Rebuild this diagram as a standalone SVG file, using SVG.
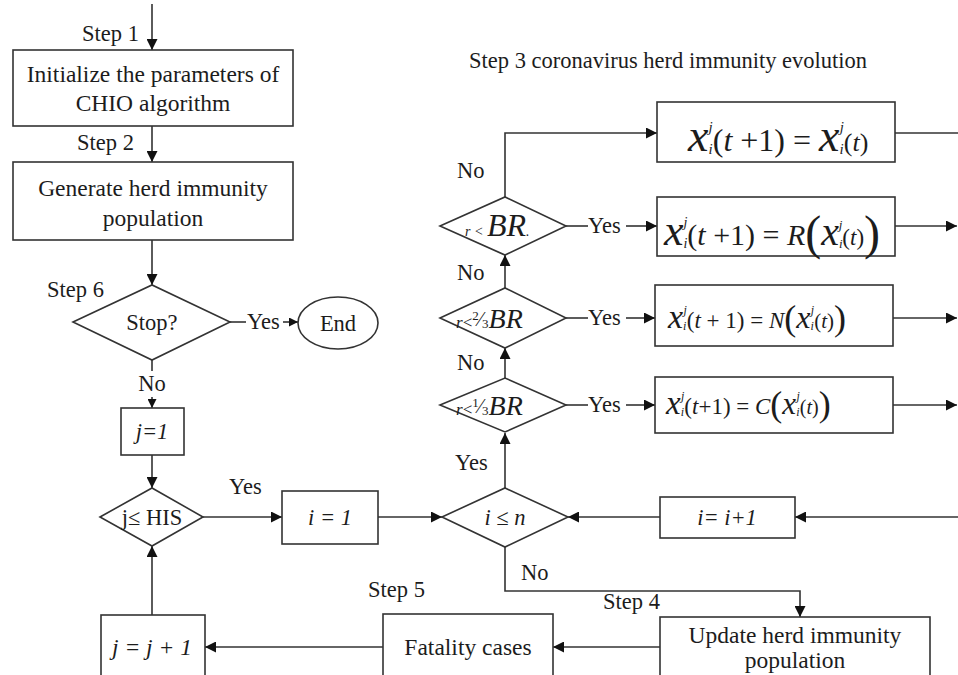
<svg xmlns="http://www.w3.org/2000/svg" width="958" height="675" viewBox="0 0 958 675">
<style>
.t{font-family:"Liberation Serif","Times New Roman",serif;font-size:22.5px;fill:#1c1c1c}
.b{font-size:23.5px}
.i{font-style:italic}
.s{fill:#fff;stroke:#333;stroke-width:1.6}
.c{fill:none;stroke:#333;stroke-width:1.6}
</style>
<defs>
<marker id="ah" viewBox="0 0 10 10" refX="10" refY="5" markerWidth="13" markerHeight="11" markerUnits="userSpaceOnUse" orient="auto"><path d="M0,0 L10,5 L0,10 z" fill="#111"/></marker>
<marker id="as" viewBox="0 0 10 10" refX="10" refY="5" markerWidth="10" markerHeight="9" markerUnits="userSpaceOnUse" orient="auto"><path d="M0,0 L10,5 L0,10 z" fill="#111"/></marker>
</defs>
<rect width="958" height="675" fill="#fff"/>

<g id="connectors">
<path class="c" d="M152,4 V50" marker-end="url(#ah)"/>
<path class="c" d="M152,126 V162" marker-end="url(#ah)"/>
<path class="c" d="M152,240 V285" marker-end="url(#ah)"/>
<path class="c" d="M230,322 H246"/>
<path class="c" d="M283,322 H298" marker-end="url(#as)"/>
<path class="c" d="M152,360 V371"/>
<path class="c" d="M152,397 V408" marker-end="url(#as)"/>
<path class="c" d="M152,455 V488" marker-end="url(#ah)"/>
<path class="c" d="M203,517 H282" marker-end="url(#ah)"/>
<path class="c" d="M378,517 H442" marker-end="url(#ah)"/>
<path class="c" d="M660,517 H568" marker-end="url(#ah)"/>
<path class="c" d="M958,517 H795" marker-end="url(#ah)"/>
<path class="c" d="M505,488 V433" marker-end="url(#ah)"/>
<path class="c" d="M505,378 V348" marker-end="url(#ah)"/>
<path class="c" d="M505,288 V255" marker-end="url(#ah)"/>
<path class="c" d="M505,197 V133 H657" marker-end="url(#ah)"/>
<path class="c" d="M895,133 H958"/>
<path class="c" d="M566,226 H588"/>
<path class="c" d="M626,226 H657" marker-end="url(#ah)"/>
<path class="c" d="M566,318 H588"/>
<path class="c" d="M626,318 H655" marker-end="url(#ah)"/>
<path class="c" d="M566,405 H588"/>
<path class="c" d="M626,405 H655" marker-end="url(#ah)"/>
<path class="c" d="M895,226 H957" marker-end="url(#ah)"/>
<path class="c" d="M893,318 H957" marker-end="url(#ah)"/>
<path class="c" d="M893,405 H957" marker-end="url(#ah)"/>
<path class="c" d="M505,547 V591 H800 V617" marker-end="url(#ah)"/>
<path class="c" d="M660,647 H553" marker-end="url(#ah)"/>
<path class="c" d="M383,647 H205" marker-end="url(#ah)"/>
<path class="c" d="M152,615 V546" marker-end="url(#ah)"/>
</g>

<g id="labels">
<text class="t" x="82" y="41">Step 1</text>
<text class="t" x="77" y="150">Step 2</text>
<text class="t" x="47" y="297">Step 6</text>
<text class="t" x="247" y="329">Yes</text>
<text class="t" x="152" y="391" text-anchor="middle">No</text>
<text class="t" x="229" y="494">Yes</text>
<text class="t" x="469" y="68" font-size="23.3">Step 3 coronavirus herd immunity evolution</text>
<text class="t" x="457" y="178">No</text>
<text class="t" x="457" y="280">No</text>
<text class="t" x="457" y="370">No</text>
<text class="t" x="455" y="470">Yes</text>
<text class="t" x="588" y="233">Yes</text>
<text class="t" x="588" y="325">Yes</text>
<text class="t" x="588" y="412">Yes</text>
<text class="t" x="521" y="580">No</text>
<text class="t" x="603" y="609">Step 4</text>
<text class="t" x="368" y="597">Step 5</text>
</g>

<g id="init">
<rect class="s" x="13" y="50" width="280" height="76"/>
<text class="t b" x="153" y="82" text-anchor="middle">Initialize the parameters of</text>
<text class="t b" x="153" y="111" text-anchor="middle">CHIO algorithm</text>
</g>
<g id="generate">
<rect class="s" x="13" y="162" width="280" height="78"/>
<text class="t b" x="153" y="196" text-anchor="middle">Generate herd immunity</text>
<text class="t b" x="153" y="226" text-anchor="middle">population</text>
</g>
<g id="stop">
<polygon class="s" points="73,322 152,285 230,322 152,360"/>
<text class="t" x="152" y="330" text-anchor="middle">Stop?</text>
</g>
<g id="end">
<ellipse class="s" cx="338" cy="323" rx="40" ry="26"/>
<text class="t" x="338" y="331" text-anchor="middle">End</text>
</g>
<g id="j1">
<rect class="s" x="121" y="408" width="63" height="47"/>
<text class="t i" x="152" y="439" text-anchor="middle">j=1</text>
</g>
<g id="jhis">
<polygon class="s" points="100,517 152,488 203,517 152,546"/>
<text class="t" x="152" y="525" text-anchor="middle">j≤ HIS</text>
</g>
<g id="i1">
<rect class="s" x="282" y="491" width="96" height="53"/>
<text class="t i" x="330" y="525" text-anchor="middle">i =  1</text>
</g>
<g id="ilen">
<polygon class="s" points="442,517 505,488 568,517 505,547"/>
<text class="t i" x="505" y="525" text-anchor="middle">i ≤ n</text>
</g>
<g id="iinc">
<rect class="s" x="660" y="497" width="135" height="41"/>
<text class="t i" x="727" y="525" text-anchor="middle">i= i+1</text>
</g>
<g id="update">
<rect class="s" x="660" y="617" width="270" height="70"/>
<text class="t b" x="795" y="643" text-anchor="middle">Update herd immunity</text>
<text class="t b" x="795" y="668" text-anchor="middle">population</text>
</g>
<g id="fatality">
<rect class="s" x="383" y="614" width="170" height="70"/>
<text class="t b" x="468" y="655" text-anchor="middle">Fatality cases</text>
</g>
<g id="jinc">
<rect class="s" x="101" y="615" width="104" height="70"/>
<text class="t i b" x="152" y="655" text-anchor="middle">j = j + 1</text>
</g>

<g id="d-br">
<polygon class="s" points="440,226 505,197 566,226 505,255"/>
<text class="t i" y="236"><tspan x="465" font-size="14">r &lt; </tspan><tspan font-size="32">BR</tspan><tspan font-size="14">.</tspan></text>
</g>
<g id="d-23br">
<polygon class="s" points="440,318 505,288 566,318 505,348"/>
<text class="t i" y="328"><tspan x="456" font-size="17">r</tspan><tspan font-style="normal" font-size="17">&lt;</tspan><tspan font-style="normal" font-size="13" dy="-8">2</tspan><tspan font-style="normal" font-size="20" dy="6">⁄</tspan><tspan font-style="normal" font-size="13" dy="2">3</tspan><tspan font-size="28" dy="0">BR</tspan></text>
</g>
<g id="d-13br">
<polygon class="s" points="440,405 505,378 566,405 505,432"/>
<text class="t i" y="415"><tspan x="456" font-size="17">r</tspan><tspan font-style="normal" font-size="17">&lt;</tspan><tspan font-style="normal" font-size="13" dy="-8">1</tspan><tspan font-style="normal" font-size="20" dy="6">⁄</tspan><tspan font-style="normal" font-size="13" dy="2">3</tspan><tspan font-size="28" dy="0">BR</tspan></text>
</g>

<g id="eq-keep">
<rect class="s" x="657" y="102" width="238" height="60"/>
<text class="t" y="151"><tspan x="688" class="i" font-size="46">x</tspan><tspan class="i" font-size="15" dy="3">i</tspan><tspan class="i" font-size="15" dx="-4" dy="-22">j</tspan><tspan font-size="32" dy="19">(</tspan><tspan class="i" font-size="32">t</tspan><tspan font-size="32"> +1) = </tspan><tspan class="i" font-size="46">x</tspan><tspan class="i" font-size="15" dy="3">i</tspan><tspan class="i" font-size="15" dx="-4" dy="-22">j</tspan><tspan font-size="26" dy="19">(</tspan><tspan class="i" font-size="26">t</tspan><tspan font-size="26">)</tspan></text>
</g>
<g id="eq-r">
<rect class="s" x="657" y="197" width="238" height="59"/>
<text class="t" y="245"><tspan x="664" class="i" font-size="44">x</tspan><tspan class="i" font-size="14" dy="3">i</tspan><tspan class="i" font-size="14" dx="-4" dy="-21">j</tspan><tspan font-size="30" dy="18">(</tspan><tspan class="i" font-size="30">t</tspan><tspan font-size="30"> +1) = </tspan><tspan class="i" font-size="30">R</tspan><tspan font-size="48" dy="4">(</tspan><tspan class="i" font-size="40" dy="-4">x</tspan><tspan class="i" font-size="13" dy="3">i</tspan><tspan class="i" font-size="13" dx="-4" dy="-19">j</tspan><tspan font-size="23" dy="16">(</tspan><tspan class="i" font-size="23">t</tspan><tspan font-size="23">)</tspan><tspan font-size="48" dy="4">)</tspan></text>
</g>
<g id="eq-n">
<rect class="s" x="655" y="285" width="238" height="61"/>
<text class="t" y="328"><tspan x="668" class="i" font-size="34">x</tspan><tspan class="i" font-size="12" dy="2">i</tspan><tspan class="i" font-size="12" dx="-3" dy="-16">j</tspan><tspan font-size="23" dy="14">(</tspan><tspan class="i" font-size="23">t</tspan><tspan font-size="23"> + 1) = </tspan><tspan class="i" font-size="23">N</tspan><tspan font-size="36" dy="2">(</tspan><tspan class="i" font-size="32" dy="-2">x</tspan><tspan class="i" font-size="12" dy="2">i</tspan><tspan class="i" font-size="12" dx="-3" dy="-16">j</tspan><tspan font-size="21" dy="14">(</tspan><tspan class="i" font-size="21">t</tspan><tspan font-size="21">)</tspan><tspan font-size="36" dy="2">)</tspan></text>
</g>
<g id="eq-c">
<rect class="s" x="655" y="377" width="238" height="56"/>
<text class="t" y="414"><tspan x="666" class="i" font-size="33">x</tspan><tspan class="i" font-size="12" dy="2">i</tspan><tspan class="i" font-size="12" dx="-3" dy="-16">j</tspan><tspan font-size="23" dy="14">(</tspan><tspan class="i" font-size="23">t</tspan><tspan font-size="23">+1) = </tspan><tspan class="i" font-size="23">C</tspan><tspan font-size="36" dy="2">(</tspan><tspan class="i" font-size="31" dy="-2">x</tspan><tspan class="i" font-size="12" dy="2">i</tspan><tspan class="i" font-size="12" dx="-3" dy="-16">j</tspan><tspan font-size="20" dy="14">(</tspan><tspan class="i" font-size="20">t</tspan><tspan font-size="20">)</tspan><tspan font-size="36" dy="2">)</tspan></text>
</g>
</svg>
